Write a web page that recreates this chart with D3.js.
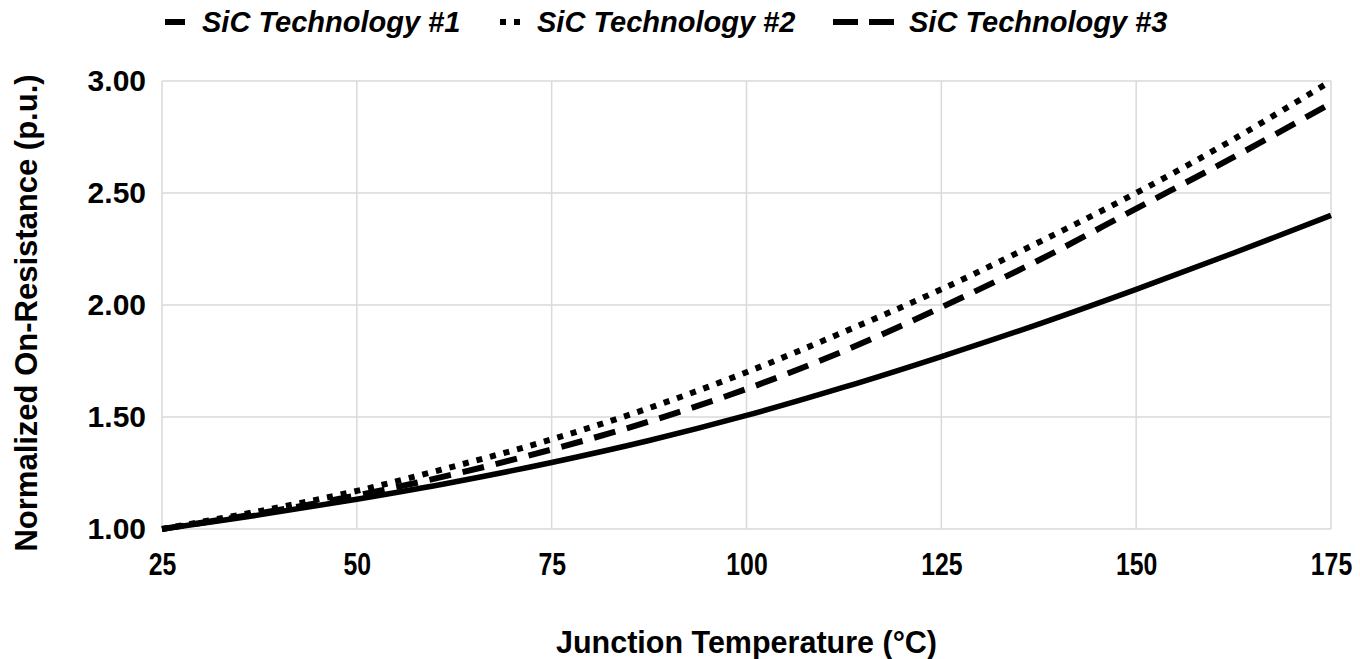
<!DOCTYPE html>
<html>
<head>
<meta charset="utf-8">
<script src="https://cdn.jsdelivr.net/npm/d3@7"></script>
<style>
  body { margin: 0; background: #fff; }
  text { font-family: "Liberation Sans", Arial, sans-serif; font-weight: bold; fill: #000; }
</style>
</head>
<body>
<svg id="chart1" width="1360" height="659"></svg>
<script>
// values
const temps = [25, 37.5, 50, 62.5, 75, 87.5, 100, 112.5, 125, 137.5, 150, 162.5, 175];
const tech1 = [1.00, 1.063, 1.133, 1.21, 1.297, 1.395, 1.507, 1.633, 1.77, 1.915, 2.07, 2.232, 2.40];
const tech2 = [1.00, 1.08, 1.17, 1.28, 1.40, 1.54, 1.70, 1.88, 2.07, 2.28, 2.50, 2.74, 3.00];
const tech3 = [1.00, 1.07, 1.15, 1.245, 1.355, 1.48, 1.625, 1.795, 1.99, 2.20, 2.43, 2.66, 2.90];
const seriesNames = ['SiC Technology #1', 'SiC Technology #2', 'SiC Technology #3'];
const xTicks = [25, 50, 75, 100, 125, 150, 175];
const yTicks = [1.0, 1.5, 2.0, 2.5, 3.0];

const lineChart = () => {
    const svg = d3.select('#chart1');

    const margin = {top: 81, right: 29, bottom: 130, left: 162};
    const width = +svg.attr('width');
    const height = +svg.attr('height');
    const innerWidth = width - margin.left - margin.right;
    const innerHeight = height - margin.top - margin.bottom;

    const xScale = d3.scaleLinear().domain([25, 175]).range([0, innerWidth]);
    const yScale = d3.scaleLinear().domain([1, 3]).range([innerHeight, 0]);

    const g = svg.append('g').attr('transform', `translate(${margin.left},${margin.top})`);

    // grid
    g.selectAll('.vgrid').data(xTicks).enter().append('line')
        .attr('x1', d => xScale(d)).attr('x2', d => xScale(d))
        .attr('y1', 0).attr('y2', innerHeight)
        .attr('stroke', '#d9d9d9').attr('stroke-width', 1.5);
    g.selectAll('.hgrid').data(yTicks).enter().append('line')
        .attr('x1', 0).attr('x2', innerWidth)
        .attr('y1', d => yScale(d)).attr('y2', d => yScale(d))
        .attr('stroke', '#d9d9d9').attr('stroke-width', 1.5);

    // axes (labels only)
    const xAxis = d3.axisBottom(xScale).tickValues(xTicks).tickSize(0).tickPadding(24);
    const xg = g.append('g').attr('transform', `translate(0,${innerHeight})`).call(xAxis);
    xg.select('.domain').remove();
    xg.selectAll('text')
        .attr('font-family', null)
        .attr('x', 0)
        .attr('transform', 'scale(0.8,1)')
        .style('font-size', '31px');

    const yAxis = d3.axisLeft(yScale).tickValues(yTicks).tickSize(0).tickPadding(16)
        .tickFormat(d3.format('.2f'));
    const yg = g.append('g').call(yAxis);
    yg.select('.domain').remove();
    yg.selectAll('text').attr('font-family', null).style('font-size', '30px');

    // lines
    const styles = [
        {w: 5.5, dash: null},
        {w: 6, dash: '6,8'},
        {w: 6, dash: '22,12'}
    ];
    const allSeries = [tech1, tech2, tech3];
    const line = d3.line()
        .x((d, i) => xScale(temps[i]))
        .y(d => yScale(d))
        .curve(d3.curveCatmullRom);

    allSeries.forEach((s, k) => {
        g.append('path')
            .datum(s)
            .attr('d', line)
            .attr('fill', 'none')
            .attr('stroke', '#000')
            .attr('stroke-width', styles[k].w)
            .attr('stroke-dasharray', styles[k].dash);
    });

    // legend
    const legendItems = [
        {x1: 165, x2: 185, text: 202},
        {x1: 500, x2: 520, text: 537},
        {x1: 833, x2: 894, text: 909}
    ];
    const lg = svg.append('g');
    legendItems.forEach((it, k) => {
        lg.append('line')
            .attr('x1', it.x1).attr('x2', it.x2)
            .attr('y1', 22).attr('y2', 22)
            .attr('stroke', '#000')
            .attr('stroke-width', 6)
            .attr('stroke-dasharray', k === 1 ? '6,8' : (k === 2 ? '25,11' : null));
        lg.append('text')
            .attr('x', it.text).attr('y', 32)
            .style('font-size', '29px')
            .style('font-style', 'italic')
            .text(seriesNames[k]);
    });

    // axis titles
    svg.append('text')
        .attr('x', margin.left + innerWidth / 2).attr('y', 653)
        .attr('text-anchor', 'middle')
        .style('font-size', '30.5px')
        .text('Junction Temperature (°C)');

    svg.append('text')
        .attr('transform', `translate(37,313) rotate(-90)`)
        .attr('text-anchor', 'middle')
        .style('font-size', '31px')
        .text('Normalized On-Resistance (p.u.)');
};

lineChart();
</script>
</body>
</html>
